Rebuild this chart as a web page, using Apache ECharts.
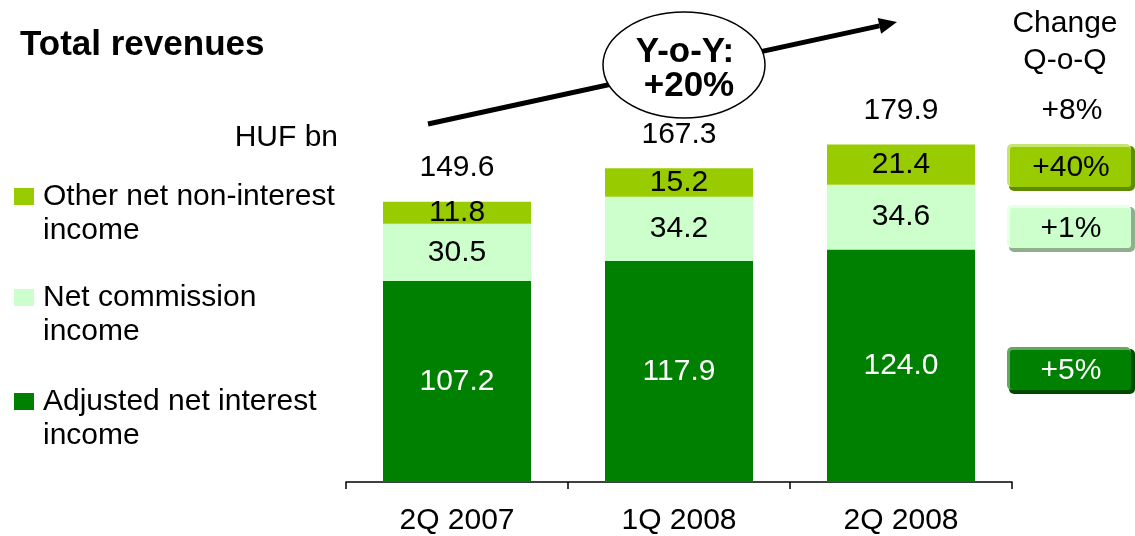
<!DOCTYPE html>
<html>
<head>
<meta charset="utf-8">
<script src="https://cdn.jsdelivr.net/npm/echarts@6/dist/echarts.min.js"></script>
<style>
  html, body { margin: 0; padding: 0; background: #fff; }
  #chart { width: 1135px; height: 536px; }
</style>
</head>
<body>
<div id="chart"></div>
<script>
// Quarterly revenue breakdown, HUF bn
const categories = ['2Q 2007', '1Q 2008', '2Q 2008'];
const netInterest = [107.2, 117.9, 124.0];
const netCommission = [30.5, 34.2, 34.6];
const otherIncome = [11.8, 15.2, 21.4];
const totals = [149.6, 167.3, 179.9];
const seriesNames = ['Adjusted net interest income', 'Net commission income', 'Other net non-interest income'];
const qoqChange = ['+5%', '+1%', '+40%'];
const totalChange = '+8%';
const yoyChange = '+20%';

const FONT = '"Liberation Sans", Arial, Helvetica, sans-serif';
const C_INT = '#008000', C_COM = '#CCFFCC', C_OTH = '#99CC00';

const chart = echarts.init(document.getElementById('chart'), null, { renderer: 'canvas' });

function segLabel(color) {
  return { show: true, position: 'inside', color: color, fontSize: 30, fontFamily: FONT,
           formatter: p => p.value.toFixed(1) };
}

// Bevelled change badge on the right: light top/left edge, dark bottom/right edge
function badge(top, text, face, light, dark, textColor) {
  const x = 1007, w = 128, h = 47;
  return {
    type: 'group', children: [
      { type: 'rect', shape: { x: x + 2, y: top + 2, width: w - 2, height: h - 2, r: 5 }, style: { fill: dark } },
      { type: 'rect', shape: { x: x, y: top, width: w - 4, height: h - 4, r: 5 }, style: { fill: light } },
      { type: 'rect', shape: { x: x + 3, y: top + 3, width: w - 7, height: h - 7, r: 3 }, style: { fill: face } },
      { type: 'text', x: x + 64, y: top + 24,
        style: { text: text, fill: textColor, font: '30px ' + FONT, textAlign: 'center', textVerticalAlign: 'middle' } }
    ]
  };
}

function legendItem(y, color, line1, line2) {
  return {
    type: 'group', children: [
      { type: 'rect', shape: { x: 14, y: y - 9, width: 20, height: 17 }, style: { fill: color } },
      { type: 'text', x: 43, y: y, style: { text: line1, fill: '#000', font: '30px ' + FONT, textVerticalAlign: 'middle' } },
      { type: 'text', x: 43, y: y + 34, style: { text: line2, fill: '#000', font: '30px ' + FONT, textVerticalAlign: 'middle' } }
    ]
  };
}

// Y-o-Y trend arrow
const ax0 = [428, 124], tip = [897, 22];
const dx = tip[0] - ax0[0], dy = tip[1] - ax0[1], len = Math.hypot(dx, dy);
const ux = dx / len, uy = dy / len, nx = -uy, ny = ux;
const hl = 18, hw = 8;
const base = [tip[0] - hl * ux, tip[1] - hl * uy];

chart.setOption({
  animation: false,
  backgroundColor: '#fff',
  grid: { left: 346, right: 123, top: 107, bottom: 52 },
  xAxis: {
    type: 'category', data: categories,
    axisLine: { lineStyle: { color: '#000', width: 1.5 } },
    axisTick: { show: true, length: 7, lineStyle: { color: '#000', width: 1.5 } },
    axisLabel: { color: '#000', fontSize: 30, fontFamily: FONT, margin: 24 }
  },
  yAxis: { type: 'value', min: 0, max: 200, show: false, splitLine: { show: false } },
  series: [
    { name: seriesNames[0], type: 'bar', stack: 'rev', data: netInterest, barWidth: 148,
      itemStyle: { color: C_INT }, label: segLabel('#fff') },
    { name: seriesNames[1], type: 'bar', stack: 'rev', data: netCommission, barWidth: 148,
      itemStyle: { color: C_COM }, label: segLabel('#000') },
    { name: seriesNames[2], type: 'bar', stack: 'rev', data: otherIncome, barWidth: 148,
      itemStyle: { color: C_OTH }, label: segLabel('#000') },
    { name: 'Total', type: 'scatter', data: totals, symbolSize: 0, z: 5,
      itemStyle: { opacity: 1 },
      label: { show: true, position: 'top', distance: 19, color: '#000', fontSize: 30, fontFamily: FONT,
               formatter: p => p.value.toFixed(1) } }
  ],
  graphic: [
    { type: 'text', x: 20, y: 45, style: { text: 'Total revenues', fill: '#000', font: 'bold 35px ' + FONT, textVerticalAlign: 'middle' } },
    { type: 'text', x: 338, y: 138, style: { text: 'HUF bn', fill: '#000', font: '30px ' + FONT, textAlign: 'right', textVerticalAlign: 'middle' } },
    legendItem(197, C_OTH, 'Other net non-interest', 'income'),
    legendItem(298, C_COM, 'Net commission', 'income'),
    legendItem(402, C_INT, 'Adjusted net interest', 'income'),
    { type: 'line', shape: { x1: ax0[0], y1: ax0[1], x2: base[0], y2: base[1] }, style: { stroke: '#000', lineWidth: 5 } },
    { type: 'polygon', shape: { points: [tip, [base[0] + hw * nx, base[1] + hw * ny], [base[0] - hw * nx, base[1] - hw * ny]] },
      style: { fill: '#000' } },
    { type: 'ellipse', shape: { cx: 684, cy: 65, rx: 81, ry: 53 }, style: { fill: '#fff', stroke: '#000', lineWidth: 1.5 }, z: 10 },
    { type: 'text', x: 685, y: 52, z: 11, style: { text: 'Y-o-Y:', fill: '#000', font: 'bold 35px ' + FONT, textAlign: 'center', textVerticalAlign: 'middle' } },
    { type: 'text', x: 689, y: 86, z: 11, style: { text: yoyChange, fill: '#000', font: 'bold 35px ' + FONT, textAlign: 'center', textVerticalAlign: 'middle' } },
    { type: 'text', x: 1065, y: 24, style: { text: 'Change', fill: '#000', font: '30px ' + FONT, textAlign: 'center', textVerticalAlign: 'middle' } },
    { type: 'text', x: 1065, y: 61, style: { text: 'Q-o-Q', fill: '#000', font: '30px ' + FONT, textAlign: 'center', textVerticalAlign: 'middle' } },
    { type: 'text', x: 1072, y: 111, style: { text: totalChange, fill: '#000', font: '30px ' + FONT, textAlign: 'center', textVerticalAlign: 'middle' } },
    badge(144, qoqChange[2], C_OTH, '#C8E470', '#5E8C00', '#000'),
    badge(205, qoqChange[1], C_COM, '#E8FFE8', '#8FAF8F', '#000'),
    badge(347, qoqChange[0], C_INT, '#62A862', '#004A00', '#fff')
  ]
});
</script>
</body>
</html>
